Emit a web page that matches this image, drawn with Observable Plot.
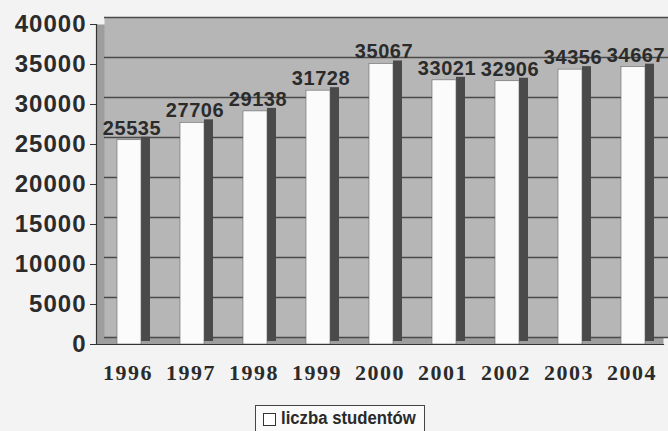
<!DOCTYPE html>
<html>
<head>
<meta charset="utf-8">
<script src="https://cdn.jsdelivr.net/npm/d3@7"></script>
<script src="https://cdn.jsdelivr.net/npm/@observablehq/plot@0.6"></script>
<style>
  html, body { margin: 0; padding: 0; background: #f3f3f3; }
  #wrap { position: relative; width: 668px; height: 431px; overflow: hidden; }
  svg { display: block; background: transparent; }
  g[aria-label="y-axis tick label"] text { letter-spacing: 1px; }
  g[aria-label="x-axis tick label"] text { letter-spacing: 1.5px; }
  g[aria-label="text"] text { letter-spacing: 0.6px; }
  #legend {
    position: absolute; left: 255px; top: 405px; width: 170px; height: 30px;
    border: 1.5px solid #444; background: #fafafa; box-sizing: border-box;
    font-family: "Liberation Sans", Arial, sans-serif;
    font-weight: bold; font-size: 18px; color: #2a2a2a; white-space: nowrap;
    display: flex; align-items: flex-start; padding: 2px 0 0 7px;
  }
  #legend .sw { flex: none; width: 11px; height: 11px; border: 1.5px solid #333; background: #fff; margin: 5px 5px 0 0; }
  #legend .lab { display: inline-block; transform: scaleX(0.93); transform-origin: left center; }
</style>
</head>
<body>
<div id="wrap"></div>
<script>
const years = ["1996", "1997", "1998", "1999", "2000", "2001", "2002", "2003", "2004"];
const students = [25535, 27706, 29138, 31728, 35067, 33021, 32906, 34356, 34667];
const yTicks = [0, 5000, 10000, 15000, 20000, 25000, 30000, 35000, 40000];
const seriesName = "liczba studentów";

const data = years.map((year, i) => ({year, value: students[i]}));

const chart = Plot.plot({
  width: 668,
  height: 402,
  marginLeft: 96,
  marginRight: 5,
  marginTop: 24,
  marginBottom: 58,
  style: {fontFamily: "Liberation Sans, Arial, sans-serif", background: "transparent", color: "#2b2b2b"},
  x: {domain: years, padding: 0},
  y: {domain: [0, 40000]},
  marks: [
    Plot.frame({fill: "#9e9e9e"}),
    Plot.frame({fill: "#b6b6b6", dx: 8, dy: -7}),
    Plot.ruleY(yTicks, {stroke: "#4a4a4a", strokeWidth: 1.6, dx: 8, dy: -7}),
    Plot.barY(data, {x: "year", y: "value", fill: "#4a4a4a", insetLeft: 45, insetRight: 9, dy: -3}),
    Plot.barY(data, {x: "year", y1: "value", y2: "value", stroke: "#d6d6d6", strokeWidth: 6, insetLeft: 25, insetRight: 13, dy: -3}),
    Plot.barY(data, {x: "year", y: "value", fill: "#fbfbfb", stroke: "#666", strokeWidth: 0.6, insetLeft: 21, insetRight: 18}),
    Plot.text(data, {x: "year", y: "value", text: d => String(d.value), dy: -12, dx: 4,
      fontSize: 20, fontWeight: "bold", fill: "#2b2b2b"}),
    Plot.frame({anchor: "left", stroke: "#333", strokeWidth: 1.2}),
    Plot.frame({anchor: "bottom", stroke: "#333", strokeWidth: 1.2}),
    Plot.axisY({ticks: yTicks, tickFormat: d => String(d), tickSize: 6, tickPadding: 4,
      fontSize: 24, fontWeight: "bold", fill: "#2b2b2b", stroke: "#333", label: null}),
    Plot.axisX({tickSize: 0, tickPadding: 20, fontSize: 22, fontWeight: "bold",
      fontFamily: "Liberation Serif, Times New Roman, serif", fill: "#2b2b2b", label: null})
  ]
});

const wrap = document.getElementById("wrap");
wrap.appendChild(chart);
const legend = document.createElement("div");
legend.id = "legend";
legend.innerHTML = `<span class="sw"></span><span class="lab">${seriesName}</span>`;
wrap.appendChild(legend);
</script>
</body>
</html>
